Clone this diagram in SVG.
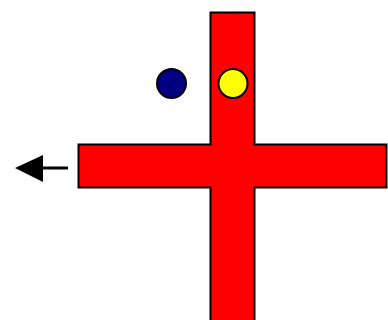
<svg xmlns="http://www.w3.org/2000/svg" width="388" height="320" viewBox="0 0 388 320">
<style>
.s{stroke:#000;stroke-width:2}
</style>
<rect width="388" height="320" fill="#fff"/>
<g id="cross"><polygon class="s" fill="#ff0000" points="210.5,12.5 254.5,12.5 254.5,144.5 386.5,144.5 386.5,187.5 254.5,187.5 254.5,325 210.5,325 210.5,187.5 78.5,187.5 78.5,144.5 210.5,144.5"/></g>
<g id="navy"><circle class="s" cx="171.5" cy="83.5" r="14.5" fill="#000080"/></g>
<g id="yellow"><circle class="s" cx="233" cy="83.5" r="14.5" fill="#ffff00"/></g>
<g id="connectors">
<line x1="68" y1="168" x2="40" y2="168" stroke="#000" stroke-width="3"/>
<polygon points="15,168 43,155 43,182" fill="#000"/>
</g>
</svg>
